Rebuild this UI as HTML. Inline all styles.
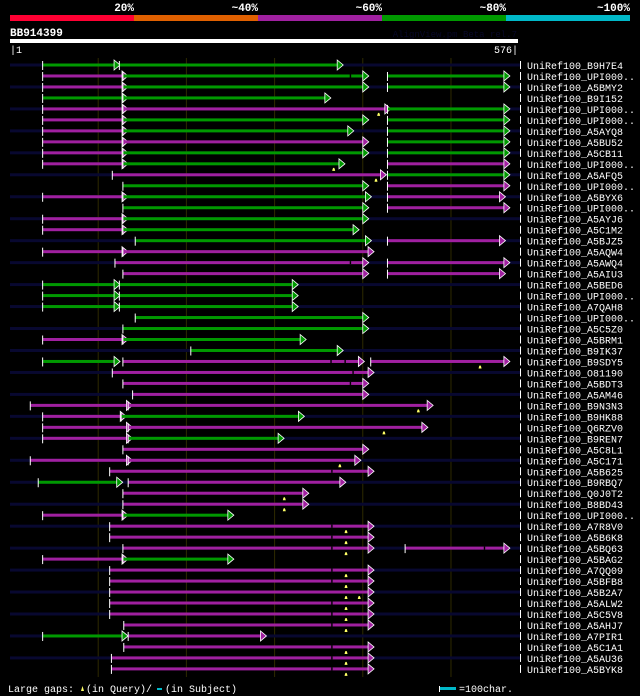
<!DOCTYPE html>
<html><head><meta charset="utf-8"><style>
html,body{margin:0;padding:0;background:#000;}
svg{display:block;font-family:"Liberation Mono",monospace;}
</style></head><body>
<svg id="chart" width="640" height="696" viewBox="0 0 640 696" xmlns="http://www.w3.org/2000/svg">
<rect x="0" y="0" width="640" height="696" fill="#000"/>
<g id="header">
<rect x="10" y="15" width="124" height="6" fill="#ff0033"/>
<rect x="134" y="15" width="124" height="6" fill="#e06000"/>
<rect x="258" y="15" width="124" height="6" fill="#a020a0"/>
<rect x="382" y="15" width="124" height="6" fill="#009900"/>
<rect x="506" y="15" width="124" height="6" fill="#00b8c8"/>
<text x="134" y="11" fill="#fff" font-size="11" font-weight="bold" text-anchor="end">20%</text>
<text x="258" y="11" fill="#fff" font-size="11" font-weight="bold" text-anchor="end">~40%</text>
<text x="382" y="11" fill="#fff" font-size="11" font-weight="bold" text-anchor="end">~60%</text>
<text x="506" y="11" fill="#fff" font-size="11" font-weight="bold" text-anchor="end">~80%</text>
<text x="630" y="11" fill="#fff" font-size="11" font-weight="bold" text-anchor="end">~100%</text>
</g>
<text x="10" y="36" fill="#fff" font-size="11" font-weight="bold">BB914399</text>
<text x="517" y="37" fill="#080828" font-size="9" text-anchor="end">AlignView.pm Beta rel.7</text>
<rect x="10" y="39" width="508" height="4" fill="#fff"/>
<text x="10" y="53" fill="#fff" font-size="10">|1</text>
<text x="518" y="53" fill="#fff" font-size="10" text-anchor="end">576|</text>
<g id="grid"></g>
<g id="rows"></g>
<g>
<text x="8" y="692" fill="#fff" font-size="10">Large gaps:</text>
<path d="M81,691 L82.5,686 L84,691 Z" fill="#ffff66"/>
<text x="86" y="692" fill="#fff" font-size="10">(in Query)/</text>
<rect x="157" y="688" width="5" height="2" fill="#00b8c8"/>
<text x="165" y="692" fill="#fff" font-size="10">(in Subject)</text>
<rect x="439" y="686" width="1" height="6" fill="#fff"/>
<rect x="440" y="687" width="16" height="3" fill="#00b8c8"/>
<text x="459" y="692" fill="#fff" font-size="10">=100char.</text>
</g>
</svg>
<script>
const queryLength = 576;
const gridTicks = [100, 200, 300, 400, 500];
const hitNames = ["UniRef100_B9H7E4","UniRef100_UPI000..","UniRef100_A5BMY2","UniRef100_B9I152","UniRef100_UPI000..","UniRef100_UPI000..","UniRef100_A5AYQ8","UniRef100_A5BU52","UniRef100_A5CB11","UniRef100_UPI000..","UniRef100_A5AFQ5","UniRef100_UPI000..","UniRef100_A5BYX6","UniRef100_UPI000..","UniRef100_A5AYJ6","UniRef100_A5C1M2","UniRef100_A5BJZ5","UniRef100_A5AQW4","UniRef100_A5AWQ4","UniRef100_A5AIU3","UniRef100_A5BED6","UniRef100_UPI000..","UniRef100_A7QAH8","UniRef100_UPI000..","UniRef100_A5C5Z0","UniRef100_A5BRM1","UniRef100_B9IK37","UniRef100_B9SDY5","UniRef100_O81190","UniRef100_A5BDT3","UniRef100_A5AM46","UniRef100_B9N3N3","UniRef100_B9HK88","UniRef100_Q6RZV0","UniRef100_B9REN7","UniRef100_A5C8L1","UniRef100_A5C171","UniRef100_A5B625","UniRef100_B9RBQ7","UniRef100_Q0J0T2","UniRef100_B8BD43","UniRef100_UPI000..","UniRef100_A7R8V0","UniRef100_A5B6K8","UniRef100_A5BQ63","UniRef100_A5BAG2","UniRef100_A7QQ09","UniRef100_A5BFB8","UniRef100_A5B2A7","UniRef100_A5ALW2","UniRef100_A5C5V8","UniRef100_A5AHJ7","UniRef100_A7PIR1","UniRef100_A5C1A1","UniRef100_A5AU36","UniRef100_A5BYK8"];
// segments: [start, end, identity class] ; g = ~80%, m = ~60%
const hitSegments = [
[[37,118,"g"],[124,371,"g"]],
[[37,127,"m"],[128,400,"g"],[428,560,"g"]],
[[37,127,"m"],[128,400,"g"],[428,560,"g"]],
[[37,127,"g"],[128,357,"g"]],
[[37,127,"m"],[128,425,"m"],[428,560,"g"]],
[[37,127,"m"],[128,400,"g"],[428,560,"g"]],
[[37,127,"m"],[128,383,"g"],[428,560,"g"]],
[[37,127,"m"],[128,400,"m"],[428,560,"g"]],
[[37,127,"m"],[128,400,"g"],[428,560,"g"]],
[[37,127,"m"],[128,373,"g"],[428,560,"m"]],
[[116,420,"m"],[428,560,"g"]],
[[128,400,"g"],[428,560,"m"]],
[[37,127,"m"],[128,403,"g"],[428,555,"m"]],
[[128,400,"g"],[428,560,"m"]],
[[37,127,"m"],[128,400,"g"]],
[[37,127,"m"],[128,389,"g"]],
[[142,403,"g"],[428,555,"m"]],
[[37,127,"m"],[128,406,"m"]],
[[119,400,"m"],[428,560,"m"]],
[[128,400,"m"],[428,555,"m"]],
[[37,118,"g"],[124,320,"g"]],
[[37,118,"g"],[124,320,"g"]],
[[37,118,"g"],[124,320,"g"]],
[[142,400,"g"]],
[[128,400,"g"]],
[[37,127,"m"],[128,329,"g"]],
[[205,371,"g"]],
[[37,118,"g"],[128,395,"m"],[409,560,"m"]],
[[116,406,"m"]],
[[128,400,"m"]],
[[139,400,"m"]],
[[23,132,"m"],[134,473,"m"]],
[[37,125,"m"],[126,327,"g"]],
[[37,132,"m"],[134,467,"m"]],
[[37,132,"m"],[134,304,"g"]],
[[128,400,"m"]],
[[23,132,"m"],[134,391,"m"]],
[[113,406,"m"]],
[[32,121,"g"],[134,374,"m"]],
[[128,332,"m"]],
[[128,332,"m"]],
[[37,127,"m"],[128,247,"g"]],
[[113,406,"m"]],
[[113,406,"m"]],
[[128,406,"m"],[448,560,"m"]],
[[37,127,"m"],[128,247,"g"]],
[[113,406,"m"]],
[[113,406,"m"]],
[[113,406,"m"]],
[[113,406,"m"]],
[[113,406,"m"]],
[[129,406,"m"]],
[[37,127,"g"],[134,284,"m"]],
[[129,406,"m"]],
[[115,406,"m"]],
[[115,406,"m"]]
];
// subject gaps: [rowIndex, position]
const subjectGaps = [[1,386],[18,386],[27,364],[27,380],[28,389],[29,386],[37,365],[42,365],[43,365],[44,365],[44,538],[46,365],[47,365],[49,365],[50,365],[51,365],[53,365],[54,365],[55,365]];
// query gaps (yellow markers): [rowIndex, position]
const queryGaps = [[4,418],[9,367],[10,415],[27,533],[31,463],[33,424],[36,374],[39,311],[40,311],[42,381],[43,381],[44,381],[46,381],[47,381],[48,381],[48,396],[49,381],[50,381],[51,381],[53,381],[54,381],[55,381]];

const NS = "http://www.w3.org/2000/svg";
const X0 = 10, X1 = 518;
function xScale(p){ return X0 + (p / queryLength) * (X1 - X0); }
function yScale(i){ return 65 + i * 10.98; }
const colors = {g:"#009900", m:"#a020a0"};
function mk(tag, attrs, parent){ const e=document.createElementNS(NS,tag); for(const k in attrs) e.setAttribute(k,attrs[k]); parent.appendChild(e); return e; }

const grid = document.getElementById("grid");
const rowsG = document.getElementById("rows");
hitNames.forEach((n,i)=>{
  if(i%2===0){
    const s = mk("rect",{x:X0,y:yScale(i)-1.5,width:X1-X0+3,height:3,fill:"#080830"},rowsG);
    
    
  }
});
gridTicks.forEach(t=>{
  const l = mk("rect",{x:xScale(t)-0.5,y:58,width:1,height:619,fill:"#2e2a00"},grid);
  
  
});
hitNames.forEach((name,i)=>{
  const y = yScale(i);
  const g = mk("g",{},rowsG);
  
  
  const br = mk("rect",{x:520,y:y-4,width:1,height:8,fill:"#fff"},g);
  
  
  hitSegments[i].forEach(seg=>{
    const sx = xScale(seg[0]), ex = xScale(seg[1]), c = colors[seg[2]];
    const line = mk("rect",{x:sx,y:y-1.5,width:ex-sx,height:3,fill:c},g);
    
    
    const tick = mk("rect",{x:sx-0.5,y:y-4,width:1,height:9,fill:"#fff"},g);
    
    
    const ar = mk("path",{d:`M${ex},${y-5} L${ex+6},${y} L${ex},${y+5} Z`,fill:c,stroke:"#fff","stroke-width":"0.8"},g);
    
    
  });
  const t = mk("text",{x:527,y:y+4,fill:"#fff","font-size":"10"},g);
  t.textContent = name;
  
  
});
subjectGaps.forEach(([i,p])=>{
  const r = mk("rect",{x:xScale(p)-0.7,y:yScale(i)-1.5,width:1.4,height:3,fill:"#000"},rowsG);
  
  
});
queryGaps.forEach(([i,p])=>{
  const x = xScale(p), y = yScale(i)+3;
  const r = mk("path",{d:`M${x-1.5},${y+4} L${x-1},${y+2} L${x-0.5},${y+1} L${x+0.5},${y+1} L${x+1},${y+2} L${x+1.5},${y+4} Z`,fill:"#ffff66"},rowsG);
  
  
});
</script>
</body></html>
